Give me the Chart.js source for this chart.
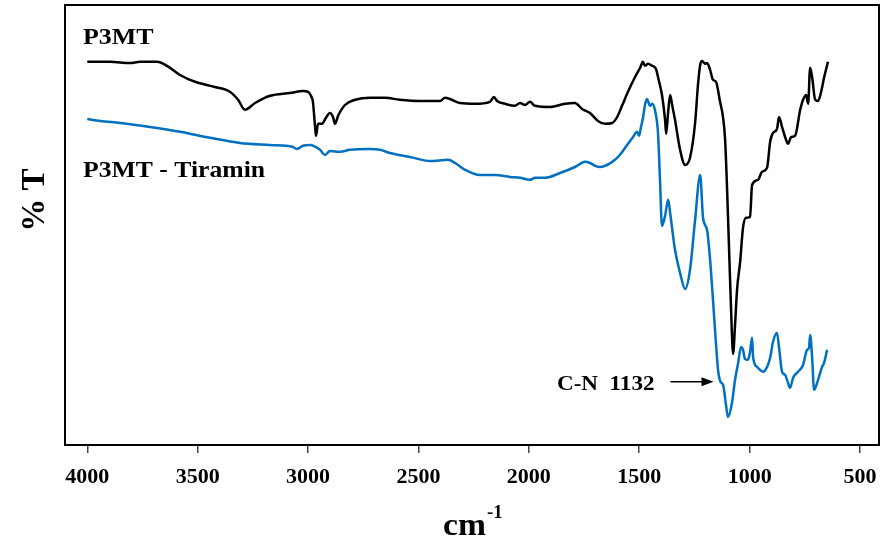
<!DOCTYPE html>
<html>
<head>
<meta charset="utf-8">
<script src="https://cdn.jsdelivr.net/npm/chart.js@4.4.1/dist/chart.umd.min.js"></script>
<style>
  html, body { margin: 0; padding: 0; background: #fff; }
  #wrap { width: 882px; height: 545px; }
</style>
</head>
<body>
<div id="wrap"><canvas id="ftir"></canvas></div>
<script>
// FTIR spectra, wavenumber (cm-1) vs transmittance (arbitrary %T)
const xTicks = [4000, 3500, 3000, 2500, 2000, 1500, 1000, 500];

const p3mtWave = [4000,3897,3807,3761,3684,3639,3580,3512,3422,3354,3317,3286,3240,3172,3082,3023,3000,2987,2978,2969,
  2964,2955,2937,2919,2901,2887,2878,2864,2833,2787,2719,2651,2584,2493,2402,2380,2357,2312,2244,2176,
  2158,2144,2108,2063,2040,2017,1995,1972,1904,1836,1791,1759,1723,1687,1655,1623,1600,1578,1551,1519,
  1496,1483,1474,1460,1442,1424,1415,1397,1383,1378,1369,1360,1351,1338,1315,1292,1270,1247,1234,1224,
  1215,1202,1193,1179,1166,1152,1134,1120,1111,1102,1093,1084,1075,1066,1057,1043,1030,1016,998,989,
  962,944,921,907,894,876,867,853,835,826,812,794,771,758,744,735,726,717,703,690,676,663,645];
const p3mtT = [95.8,95.8,95.5,95.8,95.8,94.8,92.5,90.8,89.5,88.3,86.3,83.8,85.5,87.3,88,88.5,88.3,87.3,85.8,80,
  77.3,80.3,80.3,81.8,83,82,80.3,82.3,85,86.3,86.8,86.8,86.3,86,86,86.8,86.5,85.5,85.3,85.8,
  87,86,85.3,84.8,85.5,85,85.8,84.8,84.5,85.3,85.5,84,83,81,80.3,80.5,82,84.8,88.3,92,
  94.3,95.8,94.8,95.3,94.8,94,92,87.5,81.3,77.8,83.3,87.5,85,81.3,73.8,70,71.8,80.5,90,95,
  96,95.3,95.5,93.8,91.3,90.8,85.8,81.8,76.3,63.8,48.8,33.8,22.8,30,38.8,45.8,54.3,56.8,57,65,
  66.3,68.3,69.3,75.8,78,79,82,79.5,76.3,75.3,77,77.3,83.8,86.3,87.5,85.3,94.3,92,86.3,86,88.3,91.8,95.8];

const tiraminWave = [4000,3942,3851,3716,3580,3444,3308,3172,3068,3050,3023,2991,2946,2923,2901,2855,2810,2719,2674,2629,
  2538,2448,2366,2334,2289,2221,2153,2085,2040,1995,1972,1927,1859,1791,1745,1723,1700,1677,1646,1610,
  1588,1555,1528,1510,1501,1492,1483,1474,1465,1451,1442,1428,1415,1406,1397,1383,1369,1360,1338,1315,
  1292,1270,1247,1224,1211,1193,1179,1166,1152,1143,1132,1120,1107,1098,1080,1066,1052,1039,1030,1021,
  1007,998,989,984,966,953,939,921,907,894,876,867,853,839,826,817,803,781,758,740,731,726,717,708,690,672,663,649];
const tiraminT = [81.5,81,80.5,79.5,78.3,76.8,75.5,75,74.5,74,74.8,75,73.8,72.5,73.5,73.3,73.8,74,73.8,73,
  72,71,71.3,70.5,68.8,67.5,67.5,67,66.8,66.3,66.8,66.8,68,69.5,70.8,70.5,69.8,69.5,70,71.3,
  72.5,75,77,78.3,77.3,79.5,81.8,85,86.5,84.8,85.3,83.5,78,66.3,54.8,57.3,61.3,58,48.8,43,
  39,43.8,56.3,67.5,56.8,53.8,46.3,36.3,25,18.8,15.8,15,10,7,10.5,16.3,20.5,24.5,23.8,21.5,
  21.3,23.3,26.8,21.8,19.5,18.8,18.3,19.5,21.8,25.8,28,24.5,18.3,17.5,15.5,14.3,16.8,18.3,20,23.8,24.3,27.5,22,13.8,16.3,19.5,20.5,23.8];

const cnBand = 1132;

const serif = '"Liberation Serif", "Times New Roman", serif';

function toPoints(xs, ys) {
  return xs.map((v, i) => ({ x: v, y: ys[i] }));
}

// text drawn a little wider than the font's own proportions
function wideText(ctx, text, x, y, sx, align) {
  ctx.save();
  ctx.translate(x, y);
  ctx.scale(sx, 1);
  ctx.textAlign = align;
  ctx.fillText(text, 0, 0);
  ctx.restore();
}

// frame, curve names, band marker and axis titles
const spectrumDecor = {
  id: 'spectrumDecor',
  afterDraw(chart) {
    const { ctx, chartArea: a, scales: { x, y } } = chart;
    ctx.save();
    ctx.strokeStyle = '#000';
    ctx.lineWidth = 2;
    ctx.strokeRect(a.left, a.top, a.right - a.left, a.bottom - a.top);

    ctx.fillStyle = '#000';
    ctx.textBaseline = 'alphabetic';
    ctx.font = 'bold 24px ' + serif;
    wideText(ctx, 'P3MT', 83, 44, 1.08, 'left');
    wideText(ctx, 'P3MT - Tiramin', 83, 177, 1.07, 'left');

    // arrow to the C-N band
    const i = tiraminWave.indexOf(cnBand);
    const tipX = x.getPixelForValue(cnBand) - 7;
    const tipY = y.getPixelForValue(tiraminT[i]);
    const startX = tipX - 43;
    ctx.lineWidth = 1.5;
    ctx.beginPath();
    ctx.moveTo(startX, tipY);
    ctx.lineTo(tipX - 8, tipY);
    ctx.stroke();
    ctx.beginPath();
    ctx.moveTo(tipX, tipY);
    ctx.lineTo(tipX - 12, tipY - 4.5);
    ctx.lineTo(tipX - 12, tipY + 4.5);
    ctx.closePath();
    ctx.fill();

    ctx.font = 'bold 21px ' + serif;
    wideText(ctx, 'C-N  ' + cnBand, startX - 16, tipY + 8, 1.1, 'right');

    // y title
    ctx.save();
    ctx.translate(44, 200);
    ctx.rotate(-Math.PI / 2);
    ctx.textAlign = 'center';
    ctx.font = 'bold 33px ' + serif;
    ctx.fillText('% T', 0, 0);
    ctx.restore();

    // x title with superscript
    ctx.font = 'bold 32px ' + serif;
    const cmW = ctx.measureText('cm').width * 1.05;
    const cx = 443;
    wideText(ctx, 'cm', cx, 535, 1.05, 'left');
    ctx.font = 'bold 18px ' + serif;
    wideText(ctx, '-1', cx + cmW + 1, 518, 1.05, 'left');
    ctx.restore();
  }
};

new Chart(document.getElementById('ftir'), {
  type: 'line',
  data: {
    datasets: [
      {
        label: 'P3MT',
        data: toPoints(p3mtWave, p3mtT),
        borderColor: '#000000',
        borderWidth: 2.5,
        pointRadius: 0,
        cubicInterpolationMode: 'monotone'
      },
      {
        label: 'P3MT - Tiramin',
        data: toPoints(tiraminWave, tiraminT),
        borderColor: '#0070C0',
        borderWidth: 2.5,
        pointRadius: 0,
        cubicInterpolationMode: 'monotone'
      }
    ]
  },
  options: {
    responsive: true,
    maintainAspectRatio: false,
    animation: false,
    events: [],
    layout: { padding: { left: 65, right: 3, top: 5, bottom: 0 } },
    plugins: { legend: { display: false }, tooltip: { enabled: false } },
    scales: {
      x: {
        type: 'linear',
        reverse: true,
        min: 414,
        max: 4101,
        afterBuildTicks: axis => { axis.ticks = xTicks.map(v => ({ value: v })); },
        afterFit: axis => {
          axis.height = 100;
          axis.paddingLeft = 0;
          axis.paddingRight = 0;
        },
        grid: { display: true, drawOnChartArea: false, drawTicks: true, tickLength: 8, color: '#444', lineWidth: 1.5 },
        border: { display: false },
        ticks: {
          autoSkip: false,
          maxRotation: 0,
          padding: 11,
          color: '#000',
          font: { family: serif, size: 22, weight: 'bold' },
          callback: v => String(v)
        }
      },
      y: {
        display: false,
        min: 0,
        max: 110
      }
    }
  },
  plugins: [spectrumDecor]
});
</script>
</body>
</html>
